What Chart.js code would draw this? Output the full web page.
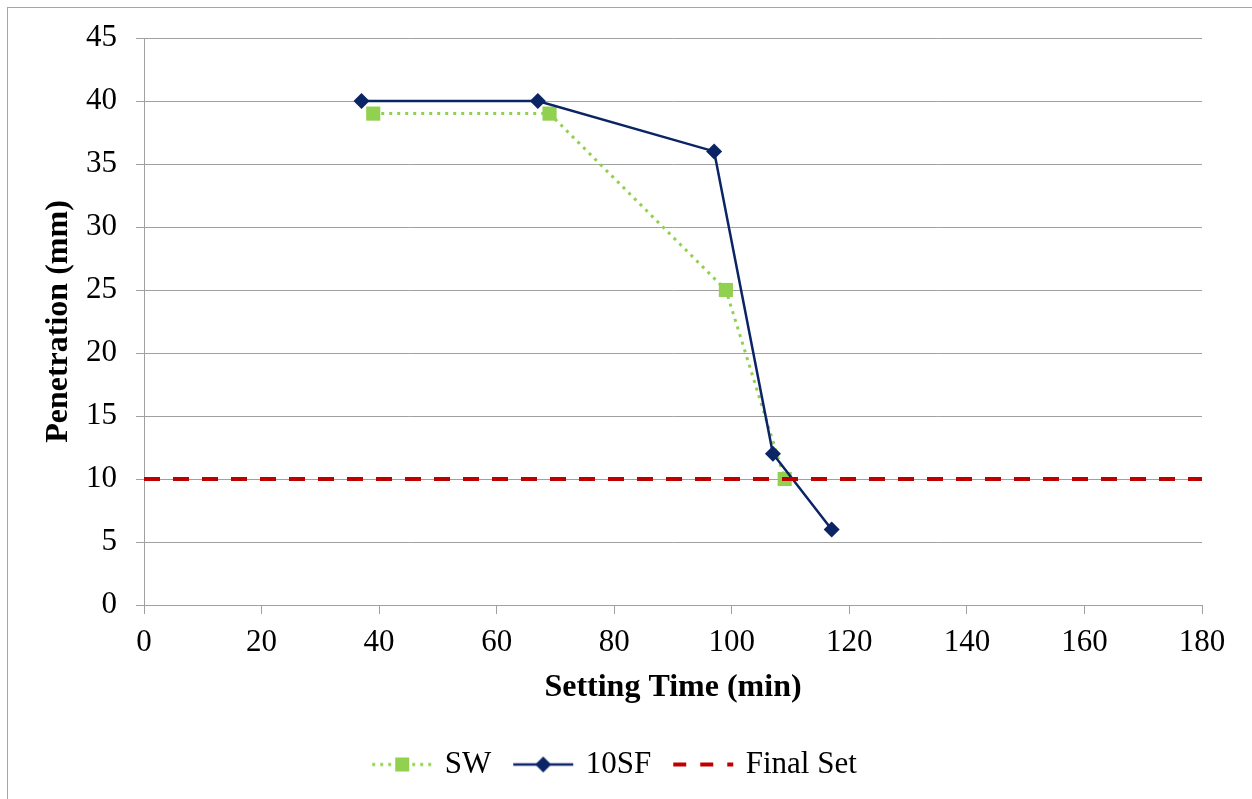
<!DOCTYPE html>
<html>
<head>
<meta charset="utf-8">
<title>Penetration vs Setting Time</title>
<script src="https://cdn.jsdelivr.net/npm/chart.js@4.4.1/dist/chart.umd.min.js"></script>
<style>
    html, body { margin: 0; padding: 0; background: #ffffff; overflow: hidden; }
    #wrap { width: 1252px; height: 799px; }
</style>
</head>
<body>
<div id="wrap"><canvas id="setChart" width="1252" height="799"></canvas></div>
<script>
// values
const swTime = [39, 69, 99, 109];
const swPen = [39, 39, 25, 10];
const sfTime = [37, 67, 97, 107, 117];
const sfPen = [40, 40, 36, 12, 6];
const finalTime = [0, 180];
const finalPen = [10, 10];
const seriesNames = ["SW", "10SF", "Final Set"];

const FONT = "'Liberation Serif', 'Times New Roman', serif";
const GRID = "#a0a0a0";
const GREEN = "#92d050";
const NAVY = "#0b2466";
const RED = "#c00000";

const toPoints = (xs, ys) => xs.map((x, i) => ({x: x, y: ys[i]}));

// small canvas used as legend symbol: line + marker, like the office legend
function legendIcon(color, dash, width, marker) {
    const c = document.createElement("canvas");
    c.width = 62;
    c.height = 22;
    const g = c.getContext("2d");
    g.strokeStyle = color;
    g.lineWidth = width;
    g.setLineDash(dash);
    g.beginPath();
    g.moveTo(1, 11);
    g.lineTo(61, 11);
    g.stroke();
    g.setLineDash([]);
    g.fillStyle = color;
    if (marker === "rect") {
        g.fillRect(24, 4, 14, 14);
    } else if (marker === "rectRot") {
        g.beginPath();
        g.moveTo(31 - 8, 11);
        g.lineTo(31, 3);
        g.lineTo(31 + 8, 11);
        g.lineTo(31, 19);
        g.closePath();
        g.fill();
    }
    return c;
}

const icons = [
    legendIcon(GREEN, [3, 5], 3, "rect"),
    legendIcon(NAVY, [], 2.5, "rectRot"),
    legendIcon(RED, [13, 14], 4, null)
];

const frame = {
    id: "frame",
    beforeDraw(chart) {
        const ctx = chart.ctx;
        ctx.save();
        ctx.strokeStyle = "#a6a6a6";
        ctx.lineWidth = 1;
        ctx.strokeRect(7.5, 7.5, 1260, 810);
        ctx.restore();
    }
};

const chart = new Chart(document.getElementById("setChart").getContext("2d"), {
    type: "line",
    data: {
        datasets: [
            {
                label: seriesNames[0],
                data: toPoints(swTime, swPen),
                borderColor: GREEN,
                backgroundColor: GREEN,
                borderWidth: 3,
                borderDash: [3, 5],
                pointStyle: "rect",
                pointRadius: 10,
                pointBorderWidth: 0,
                pointBackgroundColor: GREEN,
                tension: 0,
                order: 3
            },
            {
                label: seriesNames[1],
                data: toPoints(sfTime, sfPen),
                borderColor: NAVY,
                backgroundColor: NAVY,
                borderWidth: 2.5,
                pointStyle: "rectRot",
                pointRadius: 8,
                pointBorderWidth: 0,
                pointBackgroundColor: NAVY,
                tension: 0,
                order: 2
            },
            {
                label: seriesNames[2],
                data: toPoints(finalTime, finalPen),
                borderColor: RED,
                backgroundColor: RED,
                borderWidth: 4,
                borderDash: [16, 13],
                pointRadius: 0,
                tension: 0,
                order: 1
            }
        ]
    },
    options: {
        responsive: false,
        animation: false,
        events: [],
        layout: {
            padding: {left: 30, right: 50, top: 38, bottom: 9}
        },
        scales: {
            x: {
                type: "linear",
                min: 0,
                max: 180,
                ticks: {
                    stepSize: 20,
                    color: "#000000",
                    padding: 10,
                    maxRotation: 0,
                    font: {family: FONT, size: 31}
                },
                grid: {
                    drawOnChartArea: false,
                    drawTicks: true,
                    tickLength: 9,
                    color: GRID
                },
                border: {display: true, color: GRID, width: 1},
                title: {
                    display: true,
                    text: "Setting Time (min)",
                    color: "#000000",
                    padding: {top: 0, bottom: 17},
                    font: {family: FONT, size: 32, weight: "bold"}
                },
                afterFit(scale) {
                    scale.height = 119;
                }
            },
            y: {
                min: 0,
                max: 45,
                ticks: {
                    stepSize: 5,
                    color: "#000000",
                    padding: 19,
                    font: {family: FONT, size: 31}
                },
                grid: {
                    color: GRID,
                    tickLength: 8
                },
                border: {display: true, color: GRID, width: 1},
                title: {
                    display: true,
                    text: "Penetration (mm)",
                    color: "#000000",
                    padding: {top: 10, bottom: 0},
                    font: {family: FONT, size: 32, weight: "bold"}
                },
                afterFit(scale) {
                    scale.width = 114;
                }
            }
        },
        plugins: {
            legend: {
                position: "bottom",
                labels: {
                    color: "#000000",
                    usePointStyle: true,
                    pointStyleWidth: 54,
                    padding: 25,
                    font: {family: FONT, size: 31},
                    generateLabels(ch) {
                        return ch.data.datasets.map((ds, i) => ({
                            text: ds.label,
                            fillStyle: ds.borderColor,
                            strokeStyle: ds.borderColor,
                            lineWidth: 0,
                            hidden: false,
                            pointStyle: icons[i],
                            rotation: 0,
                            datasetIndex: i,
                            fontColor: "#000000"
                        }));
                    }
                }
            },
            tooltip: {enabled: false}
        }
    },
    plugins: [frame]
});
</script>
</body>
</html>
